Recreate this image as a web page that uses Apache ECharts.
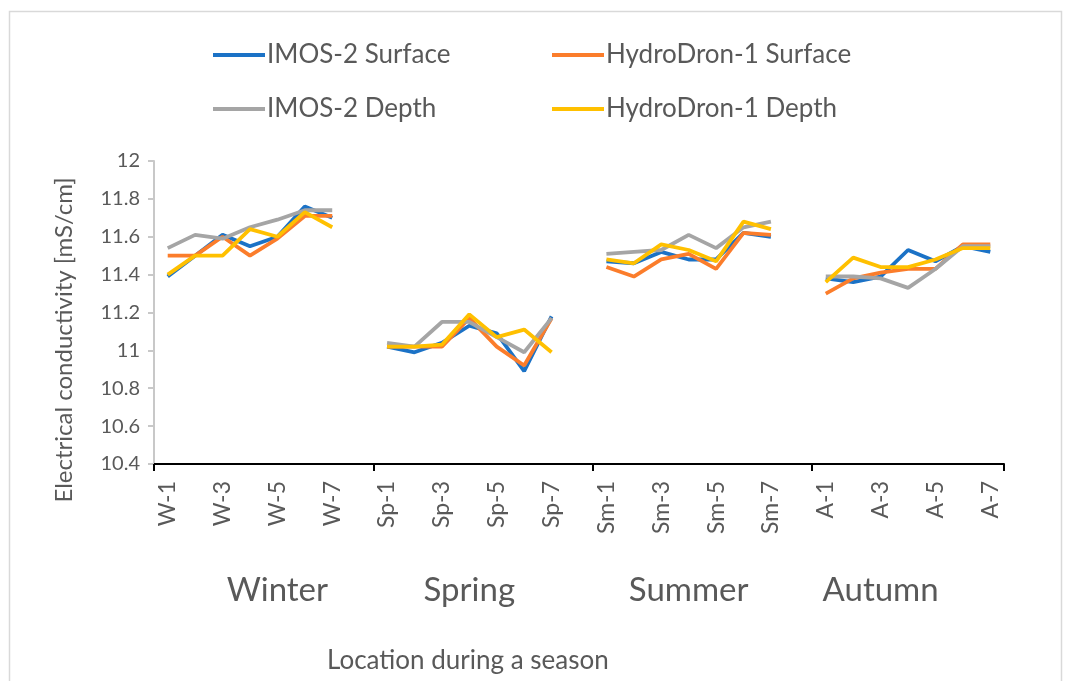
<!DOCTYPE html>
<html lang="en">

<head>
  <meta charset="UTF-8">
  <title>Electrical conductivity by season</title>
  <script src="https://cdn.jsdelivr.net/npm/echarts@6/dist/echarts.min.js"></script>
  <style>
    html, body { margin: 0; padding: 0; background: #fff; }
    #main { width: 1065px; height: 681px; }
  </style>
</head>

<body>
  <div id="main"></div>
  <script>
    // seasons and the 7 locations in each
    const seasons = ['Winter', 'Spring', 'Summer', 'Autumn']
    const seasonCodes = ['W', 'Sp', 'Sm', 'A']
    const locations = ['1', '2', '3', '4', '5', '6', '7']

    // values per series, 28 points: W-1..W-7, Sp-1..Sp-7, Sm-1..Sm-7, A-1..A-7
    const imosSurface = [
      11.39, 11.50, 11.61, 11.55, 11.60, 11.76, 11.70,
      11.02, 10.99, 11.04, 11.13, 11.09, 10.89, 11.18,
      11.47, 11.46, 11.52, 11.48, 11.48, 11.62, 11.60,
      11.38, 11.36, 11.39, 11.53, 11.47, 11.55, 11.52
    ]
    const hydroSurface = [
      11.50, 11.50, 11.60, 11.50, 11.59, 11.71, 11.71,
      11.02, 11.02, 11.02, 11.17, 11.02, 10.92, 11.17,
      11.44, 11.39, 11.48, 11.51, 11.43, 11.62, 11.61,
      11.30, 11.38, 11.41, 11.43, 11.43, 11.56, 11.56
    ]
    const imosDepth = [
      11.54, 11.61, 11.59, 11.65, 11.69, 11.74, 11.74,
      11.04, 11.02, 11.15, 11.15, 11.07, 10.99, 11.17,
      11.51, 11.52, 11.53, 11.61, 11.54, 11.65, 11.68,
      11.39, 11.39, 11.38, 11.33, 11.43, 11.55, 11.55
    ]
    const hydroDepth = [
      11.40, 11.50, 11.50, 11.64, 11.60, 11.73, 11.65,
      11.02, 11.02, 11.03, 11.19, 11.07, 11.11, 10.99,
      11.48, 11.46, 11.56, 11.53, 11.47, 11.68, 11.64,
      11.36, 11.49, 11.44, 11.44, 11.48, 11.54, 11.54
    ]

    const seriesNames = ['IMOS-2 Surface', 'HydroDron-1 Surface', 'IMOS-2 Depth', 'HydroDron-1 Depth']
    const seriesData = [imosSurface, hydroSurface, imosDepth, hydroDepth]
    const colors = ['#1B72C6', '#FB7D2B', '#A5A5A5', '#FFC000']

    // each season gets 7 slots, plus an empty one between seasons so lines break
    const n = locations.length
    const slot = n + 1
    const categories = []
    seasonCodes.forEach((code, s) => {
      locations.forEach(l => categories.push(code + '-' + l))
      if (s < seasonCodes.length - 1) categories.push('')
    })
    const withGaps = arr => {
      const out = []
      seasonCodes.forEach((c, s) => {
        out.push(...arr.slice(s * n, (s + 1) * n))
        if (s < seasonCodes.length - 1) out.push(null)
      })
      return out
    }
    // season names sit under their group (Excel places them a bit off centre)
    const seasonSlot = [4, 3, 3, 2]
    const seasonAxis = categories.map((c, i) =>
      (i % slot) === seasonSlot[Math.floor(i / slot)] ? seasons[Math.floor(i / slot)] : '')

    const font = 'Lato'
    const grey = '#595959'

    const myChart = echarts.init(document.querySelector('#main'))

    const legendBase = {
      orient: 'vertical',
      top: 42,
      padding: 0,
      itemWidth: 52,
      itemHeight: 4,
      itemGap: 28,
      icon: 'rect',
      textStyle: { fontSize: 26, color: grey, padding: [0, 0, 0, -3] }
    }

    const option = {
      animation: false,
      textStyle: { fontFamily: font },
      title: {
        text: 'Location during a season',
        left: 322,
        top: 643,
        textStyle: { fontFamily: font, fontSize: 26, fontWeight: 'normal', color: grey }
      },
      legend: [
        Object.assign({}, legendBase, { data: [seriesNames[0], seriesNames[2]], left: 213 }),
        Object.assign({}, legendBase, { data: [seriesNames[1], seriesNames[3]], left: 552 })
      ],
      grid: { left: 154, right: 61, top: 161, bottom: 217 },
      xAxis: [
        {
          type: 'category',
          data: categories,
          boundaryGap: true,
          axisLine: { lineStyle: { color: '#000', width: 2 } },
          axisTick: {
            show: true,
            alignWithLabel: false,
            length: 7,
            lineStyle: { color: '#000', width: 2 },
            interval: (i) => i % slot === 0
          },
          axisLabel: {
            interval: 1,
            rotate: 90,
            margin: 17,
            fontSize: 23,
            color: grey
          }
        },
        {
          type: 'category',
          data: seasonAxis,
          position: 'bottom',
          boundaryGap: true,
          axisLine: { show: false },
          axisTick: { show: false },
          axisLabel: {
            interval: 0,
            margin: 110,
            fontSize: 33,
            color: grey
          }
        }
      ],
      yAxis: {
        type: 'value',
        min: 10.4,
        max: 12,
        interval: 0.2,
        splitLine: { show: false },
        axisLine: { show: true, lineStyle: { color: '#C8C8C8', width: 2 } },
        axisTick: { show: true, length: 6, lineStyle: { color: '#C8C8C8', width: 2 } },
        axisLabel: {
          margin: 14,
          fontSize: 20,
          color: grey,
          formatter: v => String(Number(v.toFixed(1)))
        }
      },
      graphic: [
        {
          type: 'rect',
          shape: { x: 9.5, y: 11.5, width: 1052, height: 700 },
          style: { fill: 'none', stroke: '#D9D9D9', lineWidth: 1.5 },
          silent: true
        },
        {
          type: 'text',
          x: 64,
          y: 340,
          rotation: Math.PI / 2,
          style: {
            text: 'Electrical conductivity [mS/cm]',
            font: '24px ' + font,
            fill: grey,
            align: 'center',
            verticalAlign: 'middle'
          }
        }
      ],
      series: seriesNames.map((name, k) => ({
        name: name,
        type: 'line',
        xAxisIndex: 0,
        data: withGaps(seriesData[k]),
        symbol: 'none',
        connectNulls: false,
        itemStyle: { color: colors[k] },
        lineStyle: { color: colors[k], width: 3.8 }
      }))
    }

    myChart.setOption(option)
  </script>
</body>

</html>
